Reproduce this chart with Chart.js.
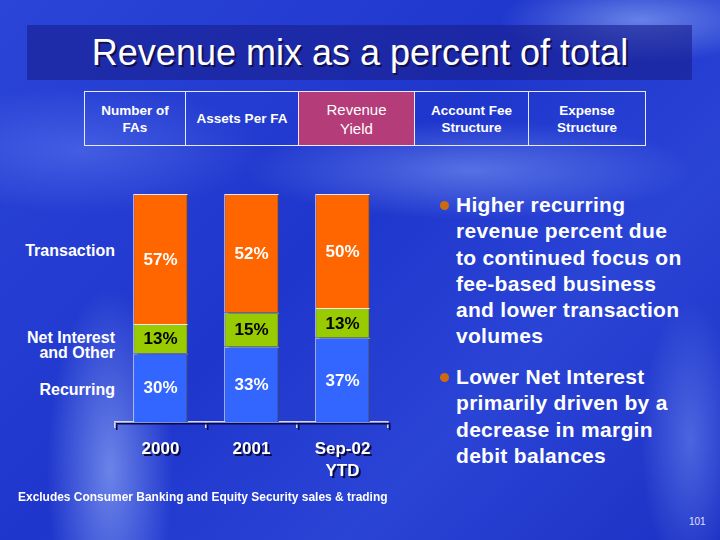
<!DOCTYPE html>
<html>
<head>
<meta charset="utf-8">
<script src="https://cdn.jsdelivr.net/npm/chart.js@4/dist/chart.umd.min.js"></script>
<style>
  html, body { margin: 0; padding: 0; }
  body {
    width: 720px; height: 540px; position: relative; overflow: hidden;
    font-family: "Liberation Sans", Arial, sans-serif; color: #fff;
    background:
      radial-gradient(ellipse 90px 260px at 110px 470px, rgba(170,195,255,0.55), rgba(170,195,255,0) 70%),
      radial-gradient(ellipse 320px 70px at 470px 170px, rgba(150,180,255,0.45), rgba(150,180,255,0) 70%),
      radial-gradient(ellipse 200px 60px at 640px 20px, rgba(170,200,255,0.5), rgba(170,200,255,0) 70%),
      radial-gradient(ellipse 70px 200px at 690px 440px, rgba(140,170,255,0.4), rgba(140,170,255,0) 70%),
      radial-gradient(ellipse 260px 90px at 80px 150px, rgba(120,150,255,0.35), rgba(120,150,255,0) 70%),
      linear-gradient(135deg, #2b45d8 0%, #1f36cc 45%, #2a44d6 70%, #1c30c4 100%);
  }
  .band {
    position: absolute; left: 27px; top: 25px; width: 665px; height: 55px;
    background: rgba(25, 30, 140, 0.6);
  }
  .title {
    position: absolute; left: 0; top: 32px; width: 720px; text-align: center;
    font-size: 36px; color: #fff; text-shadow: 2px 2px 0 #101050;
  }
  .nav {
    position: absolute; left: 84px; top: 91px; height: 55px; display: flex;
    border: 1px solid #e8e8ff; box-sizing: border-box;
  }
  .nav div {
    height: 53px; display: flex; align-items: center; justify-content: center;
    text-align: center; font-size: 13.5px; font-weight: bold; line-height: 17px;
    border-right: 1px solid #e8e8ff; box-sizing: border-box;
  }
  .nav div:last-child { border-right: none; }
  .nav .on { background: #b43c78; font-size: 15px; font-weight: normal; line-height: 19px; }
  .lbl {
    position: absolute; right: 605px; text-align: right; font-size: 16px;
    font-weight: bold; line-height: 15px;
  }
  .bul {
    position: absolute; left: 456px; width: 262px; font-size: 21px; font-weight: bold;
    line-height: 26.3px; letter-spacing: 0.3px; white-space: nowrap;
  }
  .dot {
    position: absolute; left: 440px; width: 9px; height: 9px; border-radius: 50%;
    background: #cc6a10;
  }
  .note {
    position: absolute; left: 18px; top: 489px; font-size: 13px; font-weight: bold;
    transform: scaleX(0.92); transform-origin: left top; white-space: nowrap;
  }
  .pg { position: absolute; left: 689px; top: 516px; font-size: 10px; color: #e0e0ff; }
  #wrap { position: absolute; left: 0; top: 170px; width: 420px; height: 320px; }
</style>
</head>
<body>
<div class="band"></div>
<div class="title">Revenue mix as a percent of total</div>
<div class="nav">
  <div style="width:101px">Number of<br>FAs</div>
  <div style="width:113px">Assets Per FA</div>
  <div class="on" style="width:116px">Revenue<br>Yield</div>
  <div style="width:114px">Account Fee<br>Structure</div>
  <div style="width:116px">Expense<br>Structure</div>
</div>

<div class="lbl" style="top:243px">Transaction</div>
<div class="lbl" style="top:330px">Net Interest<br>and Other</div>
<div class="lbl" style="top:382px">Recurring</div>

<div id="wrap"><canvas id="mixChart"></canvas></div>

<div class="dot" style="top:201px"></div>
<div class="bul" style="top:192px">Higher recurring<br>revenue percent due<br>to continued focus on<br>fee-based business<br>and lower transaction<br>volumes</div>
<div class="dot" style="top:373px"></div>
<div class="bul" style="top:364px">Lower Net Interest<br>primarily driven by a<br>decrease in margin<br>debit balances</div>

<div class="note">Excludes Consumer Banking and Equity Security sales &amp; trading</div>
<div class="pg">101</div>

<script>
  // Revenue mix data (percent of total)
  const periods = ['2000', '2001', ['Sep-02', 'YTD']];
  const recurring = [30, 33, 37];
  const netInterest = [13, 15, 13];
  const transaction = [57, 52, 50];

  // white labels on orange/blue, black on green
  const labelColors = ['#ffffff', '#000000', '#ffffff'];

  // draw the % values in the middle of each segment
  const segmentLabels = {
    id: 'segmentLabels',
    afterDatasetsDraw(chart) {
      const ctx = chart.ctx;
      ctx.save();
      ctx.font = 'bold 17px "Liberation Sans", Arial, sans-serif';
      ctx.textAlign = 'center';
      ctx.textBaseline = 'middle';
      chart.data.datasets.forEach((ds, i) => {
        chart.getDatasetMeta(i).data.forEach((bar, j) => {
          ctx.fillStyle = labelColors[i];
          ctx.fillText(ds.data[j] + '%', bar.x, (bar.y + bar.base) / 2 + 1);
        });
      });
      ctx.restore();
    }
  };

  // dark drop shadow for axis labels and bars
  const shadows = {
    id: 'shadows',
    beforeDraw(chart) {
      const ctx = chart.ctx;
      ctx.save();
      ctx.shadowColor = '#0a0a40';
      ctx.shadowOffsetX = 2;
      ctx.shadowOffsetY = 2;
      ctx.shadowBlur = 0;
    },
    beforeDatasetsDraw(chart) {
      const ctx = chart.ctx;
      ctx.restore();
      ctx.save();
      ctx.shadowColor = 'rgba(10,10,60,0.8)';
      ctx.shadowOffsetX = 4;
      ctx.shadowOffsetY = 0;
      ctx.shadowBlur = 0;
    },
    afterDatasetsDraw(chart) {
      chart.ctx.restore();
    }
  };

  const ctx = document.getElementById('mixChart').getContext('2d');
  new Chart(ctx, {
    type: 'bar',
    data: {
      labels: periods,
      datasets: [
        { label: 'Recurring', data: recurring, backgroundColor: '#3366ff' },
        { label: 'Net Interest and Other', data: netInterest, backgroundColor: '#99cc00' },
        { label: 'Transaction', data: transaction, backgroundColor: '#ff6600' }
      ]
    },
    options: {
      responsive: true,
      maintainAspectRatio: false,
      animation: false,
      layout: { padding: { left: 115, right: 32, top: 24, bottom: 0 } },
      datasets: {
        bar: {
          barPercentage: 0.6,
          categoryPercentage: 1.0,
          borderColor: '#e6e6ff',
          borderWidth: 1
        }
      },
      plugins: {
        legend: { display: false },
        tooltip: { enabled: false }
      },
      scales: {
        x: {
          stacked: true,
          afterFit: s => { s.height = 68; },
          grid: {
            offset: true,
            drawOnChartArea: false,
            drawTicks: true,
            tickLength: 6,
            color: '#d8d8f0',
            lineWidth: 1.5
          },
          border: { display: true, color: '#d8d8f0', width: 1.5 },
          ticks: {
            color: '#ffffff',
            padding: 10,
            maxRotation: 0,
            font: { family: '"Liberation Sans", Arial, sans-serif', size: 17, weight: 'bold', lineHeight: 1.3 }
          }
        },
        y: {
          stacked: true,
          display: false,
          min: 0,
          max: 100
        }
      }
    },
    plugins: [shadows, segmentLabels]
  });
</script>
</body>
</html>
